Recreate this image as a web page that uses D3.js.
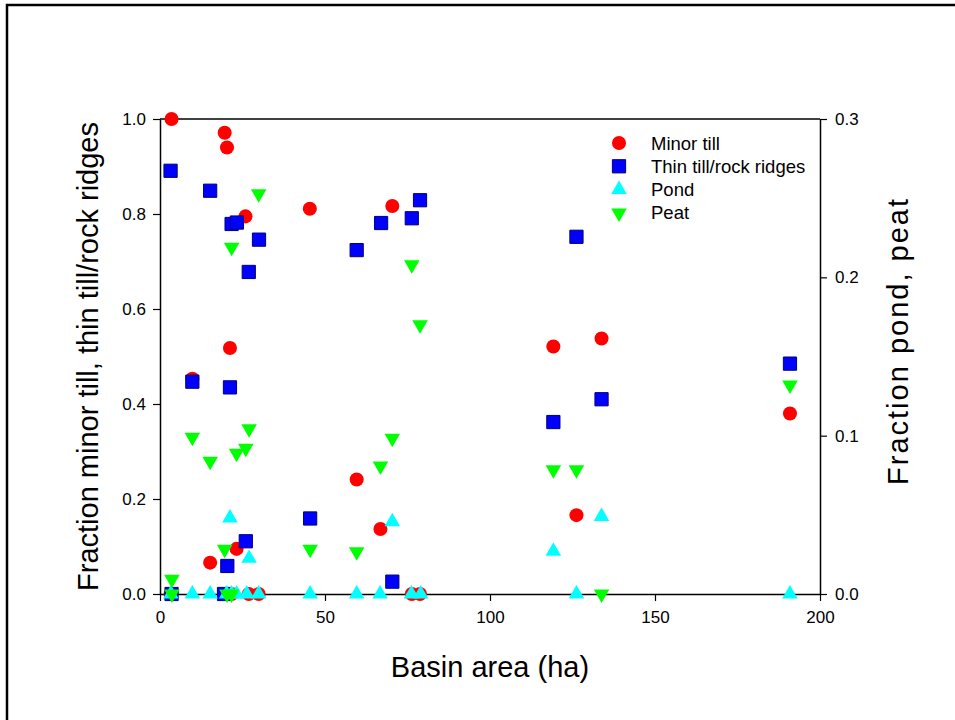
<!DOCTYPE html>
<html>
<head>
<meta charset="utf-8">
<script src="https://cdn.jsdelivr.net/npm/d3@7"></script>
<style>
  body { margin: 0; background: #fff; }
  svg { display: block; font-family: Arial, "Liberation Sans", sans-serif; }
</style>
</head>
<body>
<svg id="chart" width="955" height="720"></svg>
<script>
// [basin area (ha), fraction]
var minorTill = [[3.5,1.0],[3.2,0],[9.8,0.453],[15.2,0.066],[19.6,0.971],[20.3,0.94],[21.2,0.518],
  [21.7,0],[23.2,0.095],[25.9,0.795],[26.9,0],[29.9,0],[45.4,0.811],[59.6,0.241],[66.8,0.137],
  [70.4,0.817],[76.3,0],[78.8,0],[119.2,0.521],[126.2,0.166],[133.8,0.538],[190.9,0.38]];
var thinTill = [[3.2,0.891],[3.5,0],[9.8,0.447],[15.2,0.849],[19.4,0],[20.4,0.059],[21.2,0.435],
  [21.7,0.779],[23.3,0.782],[26.0,0.111],[26.9,0.678],[30.0,0.746],[45.5,0.159],[59.6,0.724],
  [67.0,0.781],[70.4,0.026],[76.3,0.791],[78.8,0.829],[119.2,0.362],[126.2,0.752],[133.8,0.41],[190.9,0.485]];
// right axis
var pond = [[3.3,0],[9.8,0],[15.2,0],[20.2,0],[21.2,0.048],[21.7,0],[23.2,0],[26.3,0],[27.0,0.0225],
  [29.9,0],[45.5,0],[59.6,0],[66.7,0],[70.4,0.0457],[76.2,0],[79.0,0],[119.2,0.027],[126.2,0],
  [133.8,0.049],[190.9,0]];
var peat = [[3.6,0.0093],[3.6,0],[9.8,0.099],[15.2,0.0838],[19.6,0.0282],[20.3,0],[21.7,0.219],
  [21.7,0],[23.2,0.0889],[26.0,0.092],[27.0,0.1044],[29.9,0.2528],[45.5,0.0282],[59.6,0.0267],
  [66.8,0.0808],[70.4,0.0983],[76.3,0.208],[78.8,0.170],[119.2,0.0785],[126.2,0.0785],[133.8,0],[190.9,0.132]];

var xTicks = [0, 50, 100, 150, 200];
var yLeftTicks = [0, 0.2, 0.4, 0.6, 0.8, 1.0];
var yRightTicks = [0, 0.1, 0.2, 0.3];
var legendNames = ["Minor till", "Thin till/rock ridges", "Pond", "Peat"];

var svg = d3.select("#chart");

// outer frame
svg.append("rect")
    .attr("x", 7).attr("y", 5)
    .attr("width", 970).attr("height", 740)
    .attr("fill", "none").attr("stroke", "#000").attr("stroke-width", 2.5);

var plotL = 160, plotR = 820, plotT = 119, plotB = 594;

var x = d3.scaleLinear().domain([0, 200]).range([plotL, plotR]);
var yL = d3.scaleLinear().domain([0, 1]).range([plotB, plotT]);
var yR = d3.scaleLinear().domain([0, 0.3]).range([plotB, plotT]);

// axes
var xAxis = svg.append("g")
    .attr("transform", "translate(0," + plotB + ")")
    .call(d3.axisBottom(x).tickValues(xTicks).tickSize(7).tickSizeOuter(0).tickPadding(10)
        .tickFormat(d3.format("d")));
var lAxis = svg.append("g")
    .attr("transform", "translate(" + plotL + ",0)")
    .call(d3.axisLeft(yL).tickValues(yLeftTicks).tickSize(7).tickSizeOuter(0).tickPadding(7)
        .tickFormat(d3.format(".1f")));
var rAxis = svg.append("g")
    .attr("transform", "translate(" + plotR + ",0)")
    .call(d3.axisRight(yR).tickValues(yRightTicks).tickSize(7).tickSizeOuter(0).tickPadding(8)
        .tickFormat(d3.format(".1f")));

[xAxis, lAxis, rAxis].forEach(function(a) {
    a.attr("font-size", 17).attr("font-family", "Arial, 'Liberation Sans', sans-serif");
    a.selectAll("text").attr("fill", "#000");
    a.selectAll("line").attr("stroke", "#000").attr("stroke-width", 1.2);
    a.select(".domain").attr("stroke", "#000").attr("stroke-width", 1.5);
});

// top frame line
svg.append("line")
    .attr("x1", plotL).attr("x2", plotR).attr("y1", plotT).attr("y2", plotT)
    .attr("stroke", "#000").attr("stroke-width", 1.5);

// axis titles
svg.append("text")
    .attr("x", x(100)).attr("y", 677)
    .attr("text-anchor", "middle").attr("font-size", 29)
    .text("Basin area (ha)");
svg.append("text")
    .attr("transform", "translate(98," + (plotT + plotB) / 2 + ") rotate(-90)")
    .attr("text-anchor", "middle").attr("font-size", 29)
    .text("Fraction minor till, thin till/rock ridges");
svg.append("text")
    .attr("transform", "translate(908,341) rotate(-90)")
    .attr("text-anchor", "middle").attr("font-size", 29)
    .attr("letter-spacing", 2)
    .text("Fraction pond, peat");

var circle = d3.symbol().type(d3.symbolCircle).size(155);
var square = d3.symbol().type(d3.symbolSquare).size(175);
var triUp = d3.symbol().type(d3.symbolTriangle).size(105);

var series = [
    { data: minorTill, y: yL, path: circle(), fill: "#ff0000", stroke: "none", rot: 0 },
    { data: thinTill, y: yL, path: square(), fill: "#0000ff", stroke: "#00007a", rot: 0 },
    { data: pond, y: yR, path: triUp(), fill: "#00ffff", stroke: "none", rot: 0 },
    { data: peat, y: yR, path: triUp(), fill: "#00ff00", stroke: "none", rot: 180 }
];

series.forEach(function(s) {
    svg.append("g").selectAll("path")
        .data(s.data)
        .enter().append("path")
        .attr("d", s.path)
        .attr("transform", function(d) {
            return "translate(" + x(d[0]) + "," + s.y(d[1]) + ") rotate(" + s.rot + ")";
        })
        .attr("fill", s.fill)
        .attr("stroke", s.stroke)
        .attr("stroke-width", 1);
});

// legend
var legend = svg.append("g");
series.forEach(function(s, i) {
    var ly = 143 + i * 23.3;
    legend.append("path")
        .attr("d", s.path)
        .attr("transform", "translate(619," + ly + ") rotate(" + s.rot + ")")
        .attr("fill", s.fill).attr("stroke", s.stroke);
    legend.append("text")
        .attr("x", 651).attr("y", ly + 6.5)
        .attr("font-size", 18.5)
        .text(legendNames[i]);
});
</script>
</body>
</html>
